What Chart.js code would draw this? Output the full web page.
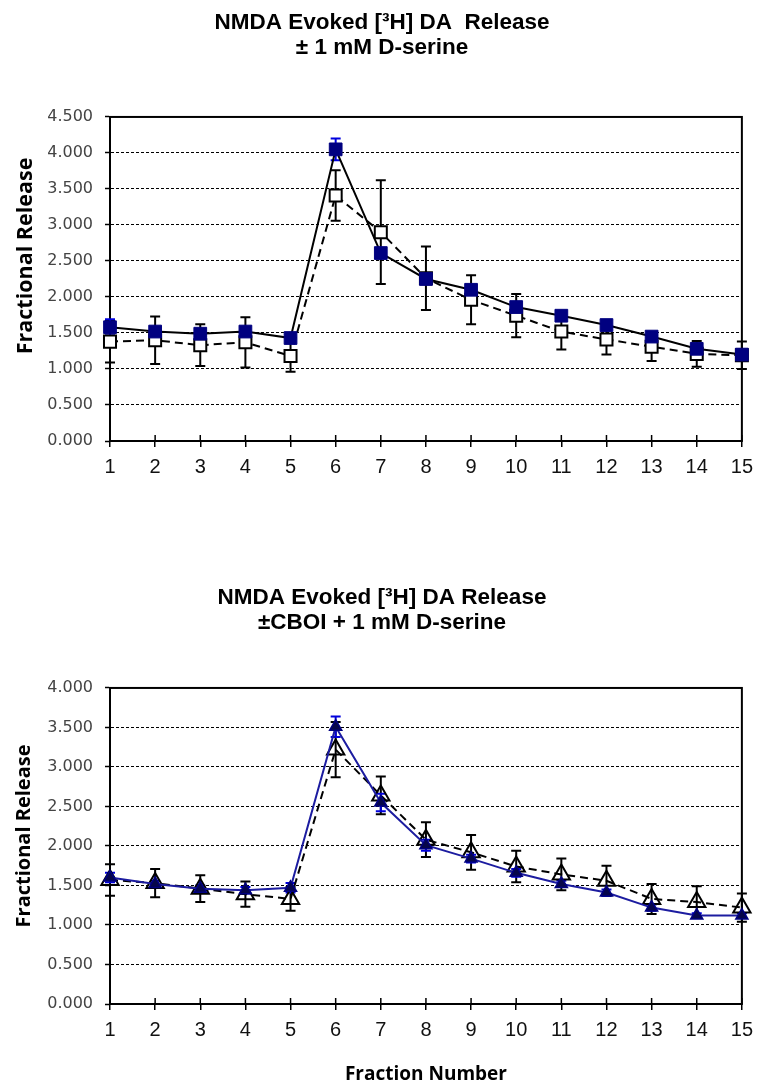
<!DOCTYPE html>
<html>
<head>
<meta charset="utf-8">
<script src="https://cdn.jsdelivr.net/npm/chart.js@4.4.0/dist/chart.umd.min.js"></script>
<style>
  body { margin: 0; background: #fff; }
  .box { position: absolute; left: 0; width: 761px; }
  #top { top: 0; height: 500px; }
  #bot { top: 575px; height: 517px; }
</style>
</head>
<body>
<div class="box" id="top"><canvas id="chartTop"></canvas></div>
<div class="box" id="bot"><canvas id="chartBot"></canvas></div>
<script>
// fraction numbers on the x axis
const fractions = ["1", "2", "3", "4", "5", "6", "7", "8", "9", "10", "11", "12", "13", "14", "15"];

// top panel: +/- 1 mM D-serine
const topDser = [1.58, 1.52, 1.49, 1.52, 1.43, 4.05, 2.61, 2.25, 2.10, 1.86, 1.74, 1.61, 1.45, 1.28, 1.20];
const topDserErr = [0.11, 0.06, 0.05, 0.06, 0.05, 0.15, 0.06, 0.06, 0.06, 0.05, 0.04, 0.04, 0.04, 0.05, 0.04];
const topCtrl = [1.38, 1.40, 1.33, 1.37, 1.18, 3.41, 2.90, 2.26, 1.96, 1.74, 1.52, 1.41, 1.31, 1.21, 1.19];
const topCtrlErr = [0.29, 0.33, 0.29, 0.35, 0.22, 0.35, 0.72, 0.44, 0.34, 0.30, 0.25, 0.21, 0.20, 0.18, 0.19];

// bottom panel: +/- CBOI + 1 mM D-serine
const botCboi = [1.60, 1.52, 1.46, 1.44, 1.47, 3.51, 2.55, 2.01, 1.84, 1.66, 1.52, 1.41, 1.22, 1.12, 1.12];
const botCboiErr = [0.06, 0.04, 0.04, 0.04, 0.06, 0.13, 0.11, 0.07, 0.05, 0.05, 0.04, 0.04, 0.04, 0.03, 0.03];
const botCtrl = [1.57, 1.53, 1.46, 1.39, 1.33, 3.22, 2.64, 2.08, 1.92, 1.74, 1.64, 1.56, 1.33, 1.29, 1.22];
const botCtrlErr = [0.20, 0.18, 0.17, 0.16, 0.15, 0.35, 0.24, 0.22, 0.22, 0.20, 0.20, 0.19, 0.19, 0.20, 0.18];

const topTitle = ["NMDA Evoked [³H] DA  Release", "± 1 mM D-serine"];
const botTitle = ["NMDA Evoked [³H] DA Release", "±CBOI + 1 mM D-serine"];
const yTitle = "Fractional Release";
const xTitle = "Fraction Number";

// box round the plot area + inner half of the x ticks
const framePlugin = {
  id: "frame",
  beforeDatasetsDraw(chart) {
    const { ctx, chartArea: a, scales } = chart;
    ctx.save();
    ctx.strokeStyle = "#000";
    ctx.lineWidth = 2;
    ctx.strokeRect(a.left, a.top, a.right - a.left, a.bottom - a.top);
    ctx.lineWidth = 1.5;
    ctx.beginPath();
    scales.x.ticks.forEach((t, i) => {
      const x = scales.x.getPixelForTick(i);
      ctx.moveTo(x, a.bottom);
      ctx.lineTo(x, a.bottom - 6);
    });
    ctx.stroke();
    ctx.restore();
  },
};

// vertical error bars with caps
const errorBarsPlugin = {
  id: "errorBars",
  beforeDatasetsDraw(chart, args, opts) {
    const { ctx } = chart;
    const y = chart.scales.y;
    (opts.bars || []).forEach((b) => {
      const meta = chart.getDatasetMeta(b.dataset);
      const vals = chart.data.datasets[b.dataset].data;
      ctx.save();
      ctx.strokeStyle = b.color;
      ctx.lineWidth = 2;
      ctx.beginPath();
      meta.data.forEach((pt, i) => {
        const hi = y.getPixelForValue(vals[i] + b.err[i]);
        const lo = y.getPixelForValue(vals[i] - b.err[i]);
        ctx.moveTo(pt.x, hi);
        ctx.lineTo(pt.x, lo);
        ctx.moveTo(pt.x - 5, hi);
        ctx.lineTo(pt.x + 5, hi);
        ctx.moveTo(pt.x - 5, lo);
        ctx.lineTo(pt.x + 5, lo);
      });
      ctx.stroke();
      ctx.restore();
    });
  },
};

// rotated y axis title, a bit off the axis centre like the original
const sideTitlePlugin = {
  id: "sideTitle",
  afterDraw(chart, args, opts) {
    const { ctx, chartArea: a } = chart;
    ctx.save();
    ctx.translate(opts.x, (a.top + a.bottom) / 2 + opts.dy);
    ctx.rotate(-Math.PI / 2);
    ctx.font = "bold " + opts.size + "px 'Open Sans'";
    ctx.fillStyle = "#000";
    ctx.textAlign = "center";
    ctx.textBaseline = "middle";
    ctx.fillText(opts.text, 0, 0);
    ctx.restore();
  },
};

function makeOptions(title, yMax, titleGap, xHeight, withXTitle) {
  return {
    responsive: true,
    maintainAspectRatio: false,
    animation: false,
    layout: { padding: { left: 15, right: 12, top: 0, bottom: 0 } },
    plugins: {
      legend: { display: false },
      tooltip: { enabled: false },
      title: {
        display: true,
        text: title,
        color: "#000",
        font: { family: "'Liberation Sans', Arial", size: 22.5, weight: "bold", lineHeight: 1.11 },
        padding: { top: 10, bottom: titleGap },
      },
      errorBars: {},
      sideTitle: {},
    },
    scales: {
      x: {
        afterFit: (scale) => { scale.height = xHeight; },
        grid: {
          display: true,
          drawOnChartArea: false,
          drawTicks: true,
          tickLength: 6,
          color: "#000",
          lineWidth: 1.5,
        },
        border: { display: true, color: "#000", width: 2 },
        ticks: {
          color: "#111",
          padding: 8,
          maxRotation: 0,
          autoSkip: false,
          font: { family: "'Liberation Sans', Arial", size: 20 },
        },
        title: {
          display: withXTitle,
          text: xTitle,
          color: "#000",
          padding: { top: 0, bottom: 6 },
          font: { family: "'Open Sans'", size: 19, weight: "bold" },
        },
      },
      y: {
        min: 0,
        max: yMax,
        afterFit: (scale) => { scale.width = 95; },
        ticks: {
          stepSize: 0.5,
          color: "#444",
          padding: 12,
          font: { family: "'DejaVu Sans'", size: 16 },
          callback: (v) => Number(v).toFixed(3),
        },
        grid: {
          color: "#000",
          lineWidth: 1,
          tickLength: 5,
          tickColor: "#000",
          tickWidth: 1.5,
          tickBorderDash: [],
        },
        border: { display: true, color: "#000", width: 2, dash: [3, 2] },
        title: { display: false },
      },
    },
  };
}

// top chart
const optTop = makeOptions(topTitle, 4.5, 57, 59, false);
optTop.plugins.errorBars = {
  bars: [
    { dataset: 1, err: topCtrlErr, color: "#000" },
    { dataset: 0, err: topDserErr, color: "#0000dd" },
  ],
};
optTop.plugins.sideTitle = { text: yTitle, size: 21.5, x: 26, dy: -23 };
new Chart(document.getElementById("chartTop"), {
  type: "line",
  data: {
    labels: fractions,
    datasets: [
      {
        label: "+ D-serine",
        data: topDser,
        borderColor: "#000",
        borderWidth: 2,
        pointStyle: "rect",
        pointRadius: 9,
        pointBackgroundColor: "#000080",
        pointBorderColor: "#000080",
        pointBorderWidth: 1,
        tension: 0,
        clip: false,
      },
      {
        label: "control",
        data: topCtrl,
        borderColor: "#000",
        borderWidth: 2,
        borderDash: [8, 5],
        pointStyle: "rect",
        pointRadius: 8.5,
        pointBackgroundColor: "#fff",
        pointBorderColor: "#000",
        pointBorderWidth: 2,
        tension: 0,
        clip: false,
      },
    ],
  },
  options: optTop,
  plugins: [framePlugin, errorBarsPlugin, sideTitlePlugin],
});

// bottom chart
const optBot = makeOptions(botTitle, 4.0, 53, 88, true);
optBot.plugins.errorBars = {
  bars: [
    { dataset: 1, err: botCtrlErr, color: "#000" },
    { dataset: 0, err: botCboiErr, color: "#0000dd" },
  ],
};
optBot.plugins.sideTitle = { text: yTitle, size: 20, x: 24, dy: -10 };
new Chart(document.getElementById("chartBot"), {
  type: "line",
  data: {
    labels: fractions,
    datasets: [
      {
        label: "CBOI + D-serine",
        data: botCboi,
        borderColor: "#1c1ca0",
        borderWidth: 2,
        pointStyle: "triangle",
        pointRadius: 7,
        pointBackgroundColor: "#06064a",
        pointBorderColor: "#000080",
        pointBorderWidth: 1.5,
        tension: 0,
        clip: false,
      },
      {
        label: "D-serine",
        data: botCtrl,
        borderColor: "#000",
        borderWidth: 2,
        borderDash: [8, 5],
        pointStyle: "triangle",
        pointRadius: 10,
        pointBackgroundColor: "rgba(0,0,0,0)",
        pointBorderColor: "#000",
        pointBorderWidth: 2,
        tension: 0,
        clip: false,
      },
    ],
  },
  options: optBot,
  plugins: [framePlugin, errorBarsPlugin, sideTitlePlugin],
});
</script>
</body>
</html>
